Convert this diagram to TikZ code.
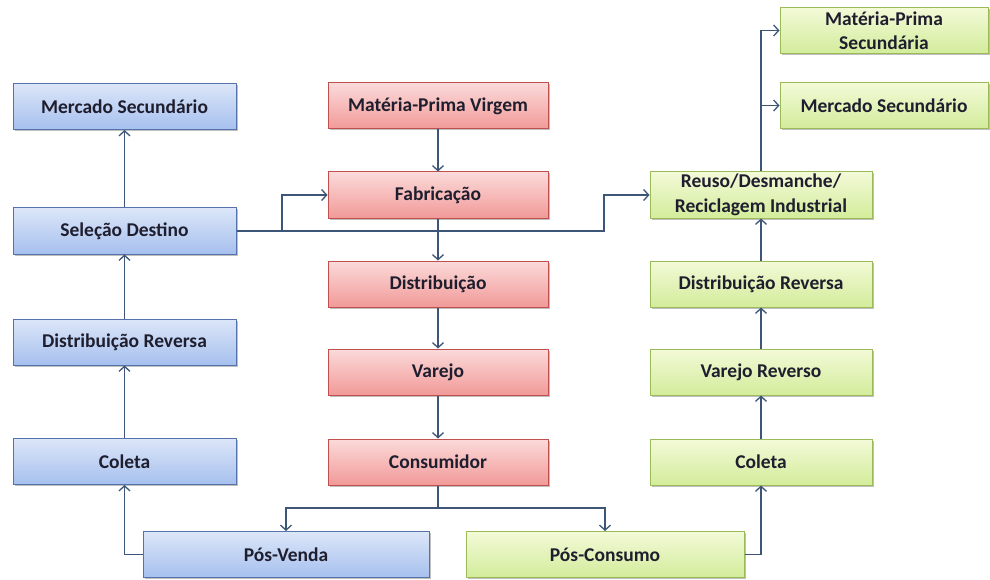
\documentclass[tikz,border=0pt]{standalone}
\usepackage{fontspec}
\setmainfont{Carlito}
\usepackage{tikz}
\usetikzlibrary{arrows.meta,shadows}

\definecolor{blueTop}{HTML}{DCE6F8}
\definecolor{blueBot}{HTML}{A6C0EE}
\definecolor{blueLine}{HTML}{5573AA}
\definecolor{redTop}{HTML}{FBDADA}
\definecolor{redBot}{HTML}{F19A98}
\definecolor{redLine}{HTML}{C0504D}
\definecolor{greenTop}{HTML}{F3FAD8}
\definecolor{greenBot}{HTML}{D3EC9B}
\definecolor{greenLine}{HTML}{9BBB59}
\definecolor{flowLine}{HTML}{3D5678}
\definecolor{txt}{HTML}{1E1E2E}

\tikzset{
  box/.style={draw, line width=1pt, minimum height=46pt, inner sep=2pt,
    align=center, text=txt, font=\bfseries\fontsize{19.5}{24.5}\selectfont,
    drop shadow={shadow xshift=1.5pt, shadow yshift=-1.5pt, opacity=0.25, fill=black}},
  reverse/.style={box, draw=blueLine, top color=blueTop, bottom color=blueBot},
  forward/.style={box, draw=redLine, top color=redTop, bottom color=redBot},
  recycle/.style={box, draw=greenLine, top color=greenTop, bottom color=greenBot},
  flow/.style={draw=flowLine, line width=1.4pt, -{Straight Barb[length=5pt,width=11pt,line width=1.3pt]}}
}

\begin{document}
\begin{tikzpicture}[x=1pt,y=-1pt]
  \useasboundingbox (0,0) rectangle (990,580);

  % canal reverso de pos-venda
  \node[reverse, minimum width=223pt] (msL) at (124.5,106.5) {Mercado Secundário};
  \node[reverse, minimum width=223pt] (selDest) at (124.5,231) {Seleção Destino};
  \node[reverse, minimum width=223pt] (distRevL) at (124.5,342) {Distribuição Reversa};
  \node[reverse, minimum width=223pt] (coletaL) at (124.5,461.5) {Coleta};
  \node[reverse, minimum width=286pt] (posVenda) at (286,554.5) {Pós-Venda};

  % cadeia direta
  \node[forward, minimum width=220pt] (mpv) at (438,106) {Matéria-Prima Virgem};
  \node[forward, minimum width=220pt] (fab) at (438,195) {Fabricação};
  \node[forward, minimum width=220pt] (dist) at (438,284) {Distribuição};
  \node[forward, minimum width=220pt] (varejo) at (438,372) {Varejo};
  \node[forward, minimum width=220pt] (cons) at (438,462) {Consumidor};

  % canal reverso de pos-consumo
  \node[recycle, minimum width=278pt] (posConsumo) at (605,554.5) {Pós-Consumo};
  \node[recycle, minimum width=222pt] (coletaR) at (761,462) {Coleta};
  \node[recycle, minimum width=222pt] (varejoR) at (761,372) {Varejo Reverso};
  \node[recycle, minimum width=222pt] (distRevR) at (761,284) {Distribuição Reversa};
  \node[recycle, minimum width=222pt] (reuso) at (761,195) {Reuso/Desmanche/\\Reciclagem Industrial};
  \node[recycle, minimum width=208pt] (msR) at (884,105.5) {Mercado Secundário};
  \node[recycle, minimum width=208pt] (mps) at (884,30.5) {Matéria-Prima\\Secundária};

  \coordinate (jL) at (282,231);
  \coordinate (jR) at (604,231);
  \coordinate (jD) at (438,508);

  \draw[flow] (mpv) -- (fab);
  \draw[flow] (fab) -- (dist);
  \draw[flow] (dist) -- (varejo);
  \draw[flow] (varejo) -- (cons);
  \draw[flow] (cons.south) -- (jD) -| (posVenda.north);
  \draw[flow] (jD) -| (posConsumo.north);

  \draw[flow] (posVenda.west) -| (coletaL.south);
  \draw[flow] (coletaL) -- (distRevL);
  \draw[flow] (distRevL) -- (selDest);
  \draw[flow] (selDest) -- (msL);
  \draw[flow] (selDest.east) -- (jL) |- (fab.west);
  \draw[flow] (jL) -- (jR) |- (reuso.west);

  \draw[flow] (posConsumo.east) -| (coletaR.south);
  \draw[flow] (coletaR) -- (varejoR);
  \draw[flow] (varejoR) -- (distRevR);
  \draw[flow] (distRevR) -- (reuso);
  \draw[flow] (reuso.north) |- (mps.west);
  \draw[flow] (reuso.north |- msR.west) -- (msR.west);
\end{tikzpicture}
\end{document}
